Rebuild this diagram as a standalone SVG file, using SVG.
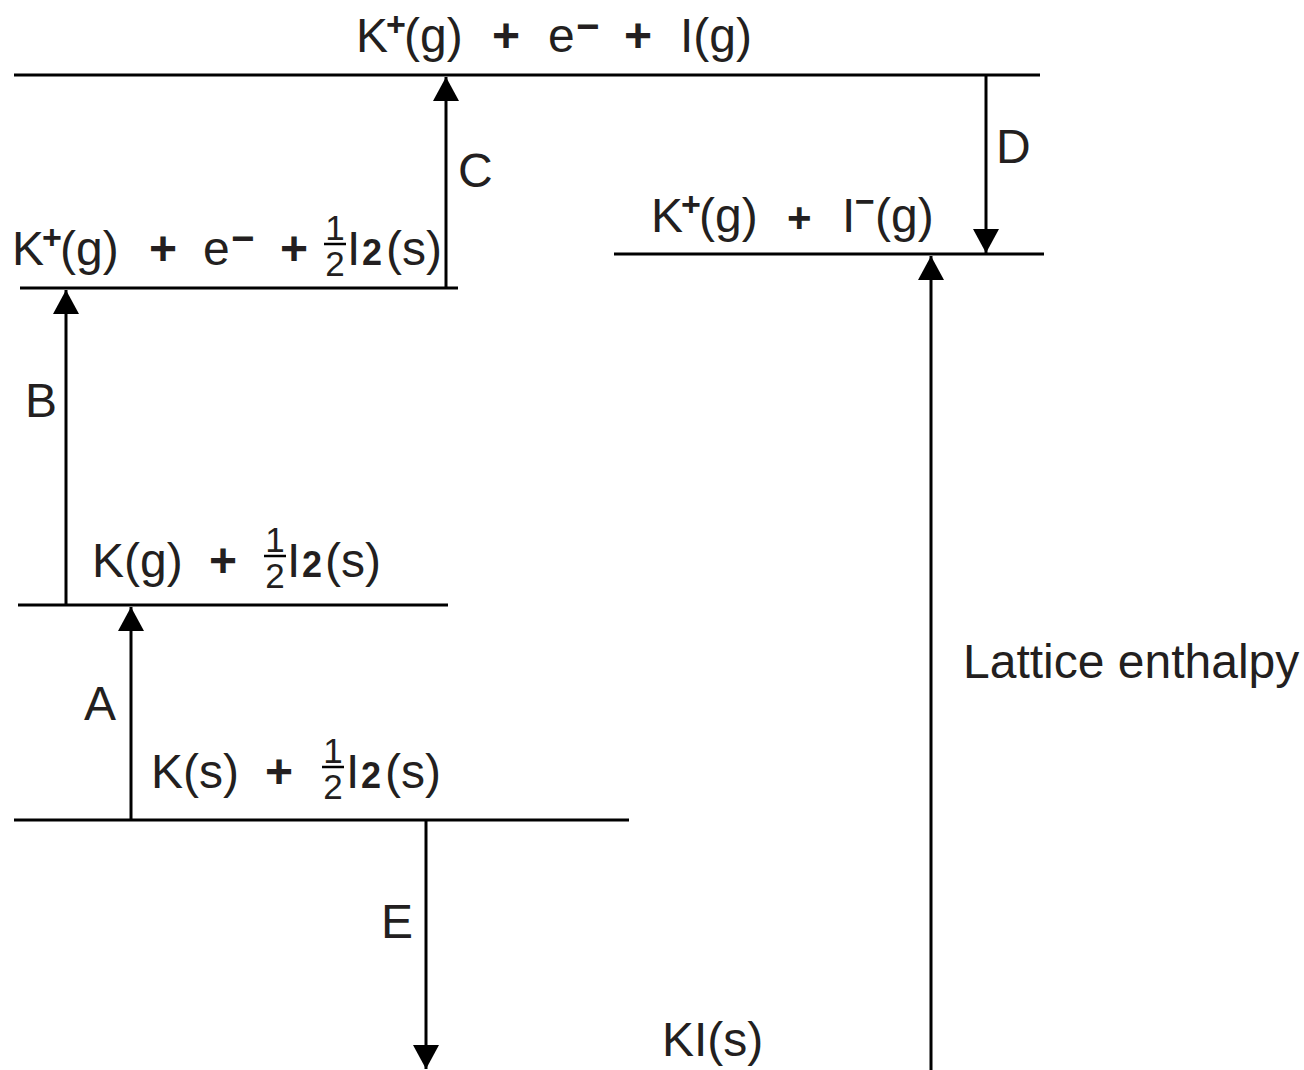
<svg xmlns="http://www.w3.org/2000/svg" width="1304" height="1070" viewBox="0 0 1304 1070">
<defs>
<style>
text{font-family:"Liberation Sans",Arial,Helvetica,sans-serif;font-size:48px;fill:#231f20}
.sp{font-size:34px;font-weight:bold}
.mn{font-size:40px;font-weight:bold}
.mn2{font-size:34px;font-weight:bold}
.pl{font-size:48px;font-weight:bold}
.pl2{font-size:42px;font-weight:bold}
.fr{font-size:35px;text-anchor:middle}
.sub{font-size:36px;font-weight:bold}
.lvl{stroke:#000;stroke-width:3;fill:none}
.con{stroke:#000;stroke-width:3;fill:none;marker-end:url(#ah)}
.bar{stroke:#000;stroke-width:2.5}
</style>
<marker id="ah" markerUnits="userSpaceOnUse" markerWidth="24" markerHeight="26" refX="24" refY="13" orient="auto">
<path d="M0,0 L24,13 L0,26 Z" fill="#000"/>
</marker>
</defs>

<g id="level-top">
<line class="lvl" x1="14" y1="75" x2="1040" y2="75"/>
<text><tspan x="356" y="52">K</tspan><tspan class="sp" x="386" y="36">+</tspan><tspan x="404" y="52">(g)</tspan><tspan class="pl" x="492" y="52">+</tspan><tspan x="548" y="52">e</tspan><tspan class="mn" x="576" y="40">−</tspan><tspan class="pl" x="624" y="52">+</tspan><tspan x="680" y="52">I(g)</tspan></text>
</g>

<g id="level-ionised">
<line class="lvl" x1="20" y1="288" x2="458" y2="288"/>
<text><tspan x="12" y="265">K</tspan><tspan class="sp" x="42" y="249">+</tspan><tspan x="60" y="265">(g)</tspan><tspan class="pl" x="149" y="265">+</tspan><tspan x="203" y="265">e</tspan><tspan class="mn" x="231" y="252">−</tspan><tspan class="pl" x="280" y="265">+</tspan></text>
<text class="fr" x="335" y="240">1</text>
<line class="bar" x1="324" y1="244" x2="346" y2="244"/>
<text class="fr" x="335" y="276">2</text>
<text><tspan x="347" y="265">I</tspan><tspan class="sub" x="362" y="265">2</tspan><tspan x="386" y="265">(s)</tspan></text>
</g>

<g id="level-ions">
<line class="lvl" x1="614" y1="254" x2="1044" y2="254"/>
<text><tspan x="651" y="232">K</tspan><tspan class="sp" x="681" y="216">+</tspan><tspan x="699" y="232">(g)</tspan><tspan class="pl2" x="787" y="232">+</tspan><tspan x="842" y="232">I</tspan><tspan class="mn2" x="855" y="213">−</tspan><tspan x="875" y="232">(g)</tspan></text>
</g>

<g id="level-kgas">
<line class="lvl" x1="18" y1="605" x2="448" y2="605"/>
<text><tspan x="92" y="577">K(g)</tspan><tspan class="pl" x="209" y="577">+</tspan></text>
<text class="fr" x="275" y="552">1</text>
<line class="bar" x1="264" y1="556" x2="286" y2="556"/>
<text class="fr" x="275" y="588">2</text>
<text><tspan x="287" y="577">I</tspan><tspan class="sub" x="302" y="577">2</tspan><tspan x="325" y="577">(s)</tspan></text>
</g>

<g id="level-ksolid">
<line class="lvl" x1="14" y1="820" x2="629" y2="820"/>
<text><tspan x="151" y="788">K(s)</tspan><tspan class="pl" x="265" y="788">+</tspan></text>
<text class="fr" x="333" y="763">1</text>
<line class="bar" x1="322" y1="767" x2="344" y2="767"/>
<text class="fr" x="333" y="799">2</text>
<text><tspan x="346" y="788">I</tspan><tspan class="sub" x="361" y="788">2</tspan><tspan x="385" y="788">(s)</tspan></text>
</g>

<g id="level-ki">
<text x="662" y="1056">KI(s)</text>
</g>

<g id="connectors">
<line class="con" x1="131" y1="820" x2="131" y2="607"/>
<line class="con" x1="66" y1="605" x2="66" y2="290"/>
<line class="con" x1="446" y1="288" x2="446" y2="77"/>
<line class="con" x1="986" y1="75" x2="986" y2="253"/>
<line class="con" x1="426" y1="820" x2="426" y2="1069"/>
<line class="con" x1="931" y1="1075" x2="931" y2="256"/>
</g>

<g id="labels">
<text x="84" y="720">A</text>
<text x="25" y="417">B</text>
<text x="458" y="187">C</text>
<text x="996" y="163">D</text>
<text x="381" y="938">E</text>
<text x="963" y="678">Lattice enthalpy</text>
</g>
</svg>
